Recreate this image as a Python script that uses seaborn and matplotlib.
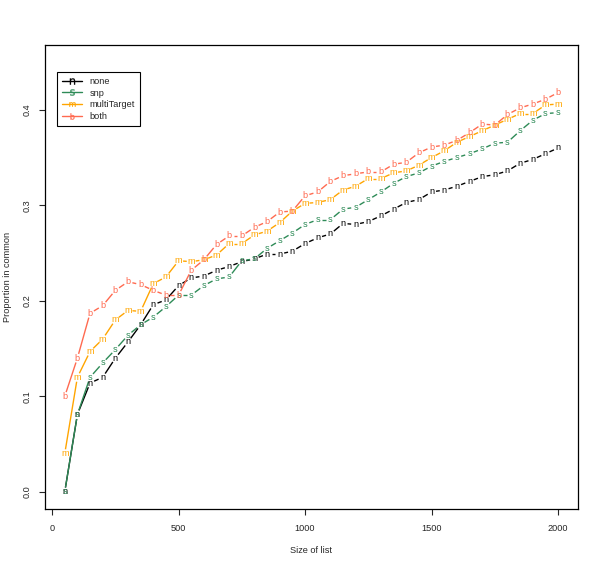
import numpy as np
import matplotlib
matplotlib.use("Agg")
import matplotlib.pyplot as plt
from matplotlib.collections import LineCollection
from matplotlib.lines import Line2D
import seaborn as sns

# list sizes
sizes = list(range(50, 2001, 50))

none = [0.000, 0.081, 0.114, 0.120, 0.140, 0.157, 0.175, 0.196, 0.201, 0.216,
        0.224, 0.226, 0.232, 0.236, 0.241, 0.244, 0.249, 0.249, 0.252, 0.260,
        0.266, 0.270, 0.281, 0.280, 0.283, 0.289, 0.296, 0.303, 0.306, 0.314,
        0.316, 0.320, 0.325, 0.330, 0.332, 0.336, 0.344, 0.348, 0.354, 0.360]
snp = [0.000, 0.081, 0.120, 0.135, 0.149, 0.164, 0.175, 0.183, 0.194, 0.206,
       0.206, 0.216, 0.223, 0.225, 0.242, 0.244, 0.255, 0.263, 0.271, 0.280,
       0.285, 0.285, 0.296, 0.298, 0.306, 0.314, 0.323, 0.330, 0.334, 0.341,
       0.346, 0.350, 0.354, 0.359, 0.365, 0.366, 0.378, 0.389, 0.396, 0.397]
multi = [0.040, 0.120, 0.147, 0.160, 0.180, 0.190, 0.189, 0.218, 0.225, 0.242,
         0.241, 0.243, 0.248, 0.260, 0.260, 0.269, 0.273, 0.282, 0.294, 0.302,
         0.303, 0.306, 0.316, 0.320, 0.328, 0.328, 0.334, 0.336, 0.342, 0.350,
         0.357, 0.366, 0.372, 0.378, 0.384, 0.390, 0.396, 0.396, 0.405, 0.406]
both = [0.100, 0.140, 0.187, 0.195, 0.211, 0.220, 0.217, 0.211, 0.206, 0.206,
        0.232, 0.243, 0.259, 0.268, 0.268, 0.277, 0.283, 0.293, 0.294, 0.310,
        0.314, 0.325, 0.331, 0.333, 0.335, 0.335, 0.343, 0.345, 0.355, 0.361,
        0.363, 0.368, 0.376, 0.385, 0.384, 0.395, 0.402, 0.406, 0.411, 0.418]

labels = ["none", "snp", "multiTarget", "both"]
letters = ["n", "s", "m", "b"]
colors = ["black", "#2E8B57", "#FFA500", "#FF6A50"]
series = [none, snp, multi, both]

sns.set_style("ticks")
plt.rcParams["font.family"] = ["Liberation Sans", "DejaVu Sans"]
fs = 6.6

fig = plt.figure(figsize=(6.0, 5.67), dpi=100)
ax = fig.add_axes([0.075, 0.102, 0.888, 0.819])
ax.set_xlim(-28, 2078)
ax.set_ylim(-0.018, 0.468)

# R type="b": segments with a gap around each letter
gap = 4.5
for vals, col, let in zip(series, colors, letters):
    pts = ax.transData.transform(np.column_stack([sizes, vals]))
    segs = []
    for p0, p1 in zip(pts[:-1], pts[1:]):
        d = p1 - p0
        L = np.hypot(*d)
        if L <= 2 * gap:
            continue
        u = d / L
        a = ax.transData.inverted().transform(p0 + u * gap)
        b = ax.transData.inverted().transform(p1 - u * gap)
        segs.append([a, b])
    ax.add_collection(LineCollection(segs, colors=col, linewidths=1.0))
    for x, y in zip(sizes, vals):
        ax.text(x, y, let, color=col, fontsize=fs, ha="center", va="center")

ax.set_xticks([0, 500, 1000, 1500, 2000])
ax.set_yticks([0.0, 0.1, 0.2, 0.3, 0.4])
ax.set_yticklabels(["0.0", "0.1", "0.2", "0.3", "0.4"], rotation=90, va="center")
ax.tick_params(labelsize=fs, length=4, width=0.8, direction="out")
ax.tick_params(axis="x", pad=6.5)
ax.tick_params(axis="y", pad=5.4)
for s in ax.spines.values():
    s.set_linewidth(0.9)
    s.set_color("black")

ax.set_xlabel("Size of list", fontsize=fs)
ax.set_ylabel("Proportion in common", fontsize=fs)
ax.xaxis.set_label_coords(0.5, -0.08)
ax.yaxis.set_label_coords(-0.062, 0.5)

handles = [Line2D([], [], color=c, lw=1.0, marker=r"$\mathsf{%s}$" % l,
                  markersize=4.5, markeredgewidth=0.2)
           for c, l in zip(colors, letters)]
leg = ax.legend(handles, labels, loc="upper left", bbox_to_anchor=(0.0225, 0.942),
                borderaxespad=0, fontsize=fs, fancybox=False, framealpha=1,
                edgecolor="black", handlelength=2.2, handletextpad=0.8,
                labelspacing=0.3, borderpad=0.55)
leg.get_frame().set_linewidth(0.8)

fig.savefig("out.png", dpi=100)
